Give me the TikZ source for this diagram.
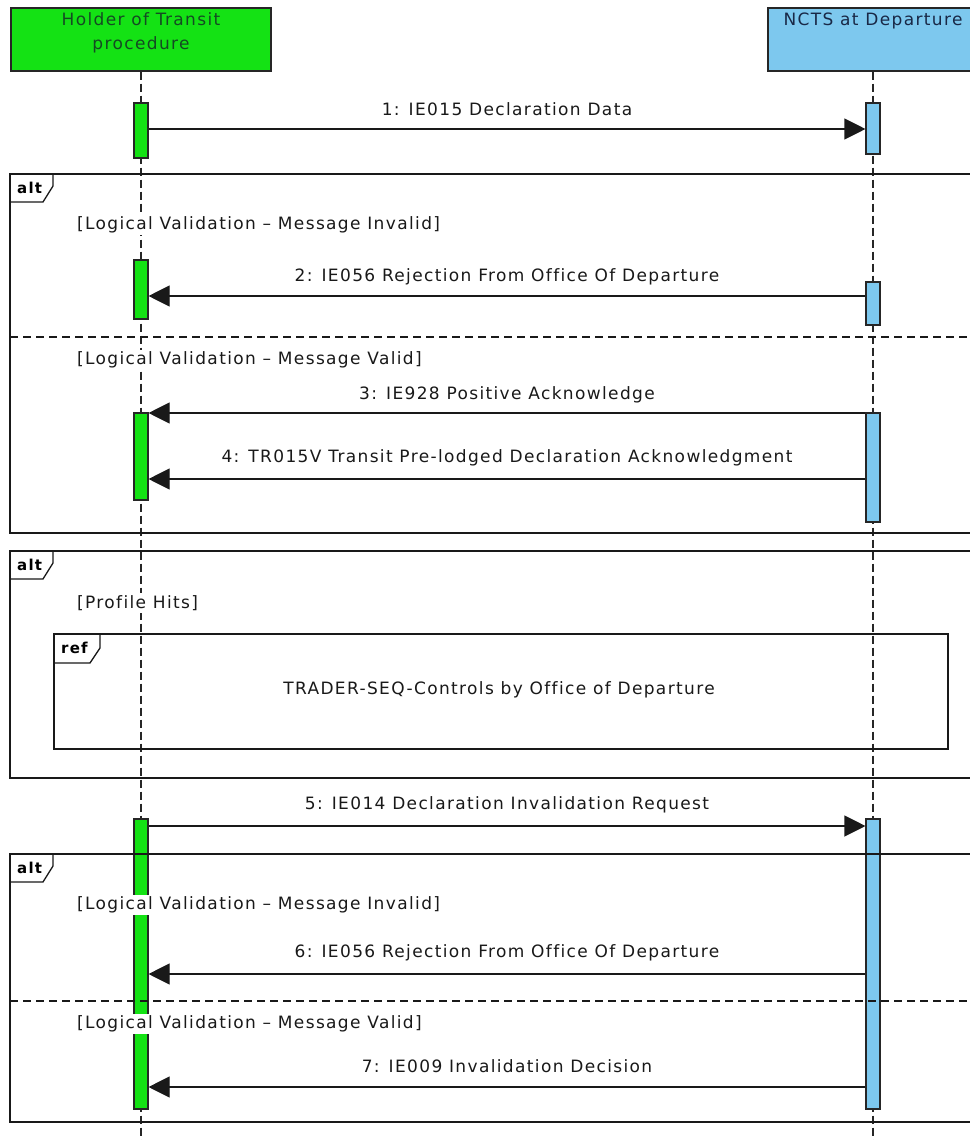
\documentclass[tikz,border=0pt]{standalone}
\usepackage{fontspec}
\newfontfamily\seqfont{DejaVu Sans}[LetterSpace=8, Ligatures=NoCommon]
\usetikzlibrary{arrows.meta,positioning}
\definecolor{holdergreen}{RGB}{20,226,20}
\definecolor{nctsblue}{RGB}{125,200,238}
\definecolor{holdertext}{RGB}{20,75,35}
\definecolor{nctstext}{RGB}{25,40,70}

\begin{document}
\begin{tikzpicture}[
  x=1pt, y=-1pt,
  headbox/.style={draw=black!85, line width=1.1pt, minimum height=63pt, inner sep=0pt},
  headtext/.style={font=\seqfont\fontsize{17}{24}\selectfont, align=center, anchor=north, inner sep=0pt},
  lifeline/.style={draw=black!85, line width=1.1pt, dash pattern=on 8pt off 4pt},
  hbar/.style={draw=black!85, fill=holdergreen, line width=1.1pt, minimum width=14pt, inner sep=0pt},
  nbar/.style={hbar, fill=nctsblue},
  msg/.style={-{Triangle[length=21pt,width=21pt]}, draw=black!90, line width=1.1pt},
  msglabel/.style={font=\seqfont\fontsize{17}{20}\selectfont, text=black!90},
  guard/.style={msglabel, fill=white, anchor=west, inner sep=2pt},
  frame/.style={draw=black!90, line width=1.3pt},
  divider/.style={draw=black!90, line width=1.1pt, dash pattern=on 8pt off 5pt},
  frametag/.style={font=\seqfont\bfseries\fontsize{15}{18}\selectfont, anchor=west, inner sep=0pt}
]
  \fill[white] (0,0) rectangle (969,1140);
  \useasboundingbox (0,0) rectangle (969,1140);

  % participants
  \node[headbox, fill=holdergreen, minimum width=260pt,
    label={[headtext, text=holdertext, yshift=-5pt]north:{Holder of Transit\\procedure}}] (holder) at (141,39.5) {};
  \node[headbox, fill=nctsblue, minimum width=210pt,
    label={[headtext, text=nctstext, yshift=-5pt]north:{NCTS at Departure}}] (ncts) at (873,39.5) {};

  \coordinate (holderend) at (141,1140);
  \coordinate (nctsend) at (873,1140);
  \draw[lifeline] (holder) -- (holderend);
  \draw[lifeline] (ncts) -- (nctsend);

  % activation bars
  \node[hbar, minimum height=55pt] (h1) at (141,130.5) {};
  \node[nbar, minimum height=51pt] (n1) at (873,128.5) {};
  \node[hbar, minimum height=59pt] (h2) at (141,289.5) {};
  \node[nbar, minimum height=43pt] (n2) at (873,303.5) {};
  \node[hbar, minimum height=87pt] (h3) at (141,456.5) {};
  \node[nbar, minimum height=109pt] (n3) at (873,467.5) {};
  \node[hbar, minimum height=290pt] (h5) at (141,964) {};
  \node[nbar, minimum height=290pt] (n5) at (873,964) {};

  % combined fragments
  \draw[frame] (10,174) rectangle (980,533);
  \draw[frame] (10,202) -- (43,202) -- (53,186) -- (53,174);
  \node[frametag] (alt1) at (17,188) {alt};
  \draw[divider] (10,337) -- (980,337);

  \draw[frame] (10,551) rectangle (980,778);
  \draw[frame] (10,579) -- (43,579) -- (53,563) -- (53,551);
  \node[frametag] (alt2) at (17,565) {alt};

  \draw[frame] (54,634) rectangle (948,749);
  \draw[frame] (54,663) -- (90,663) -- (100,648) -- (100,634);
  \node[frametag] (ref) at (61,648) {ref};
  \node[msglabel] (refname) at (499,690) {TRADER-SEQ-Controls by Office of Departure};

  \draw[frame] (10,854) rectangle (980,1122);
  \draw[frame] (10,882) -- (43,882) -- (53,866) -- (53,854);
  \node[frametag] (alt3) at (17,868) {alt};
  \draw[divider] (10,1001) -- (980,1001);

  % guards
  \node[guard] (g1) at (75,225) {[Logical Validation – Message Invalid]};
  \node[guard] (g2) at (75,360) {[Logical Validation – Message Valid]};
  \node[guard] (g3) at (75,603) {[Profile Hits]};
  \node[guard] (g4) at (75,905) {[Logical Validation – Message Invalid]};
  \node[guard] (g5) at (75,1024) {[Logical Validation – Message Valid]};

  % messages
  \coordinate (r1) at (0,129);
  \coordinate (r2) at (0,296);
  \coordinate (r3) at (0,413);
  \coordinate (r4) at (0,479);
  \coordinate (r5) at (0,826);
  \coordinate (r6) at (0,974);
  \coordinate (r7) at (0,1087);

  \draw[msg] (h1.east |- r1) -- node[msglabel, yshift=20pt] {1: IE015 Declaration Data} (n1.west |- r1);
  \draw[msg] (n2.west |- r2) -- node[msglabel, yshift=19pt] {2: IE056 Rejection From Office Of Departure} (h2.east |- r2);
  \draw[msg] (n3.west |- r3) -- node[msglabel, yshift=18pt] {3: IE928 Positive Acknowledge} (h3.east |- r3);
  \draw[msg] (n3.west |- r4) -- node[msglabel, yshift=21pt] {4: TR015V Transit Pre-lodged Declaration Acknowledgment} (h3.east |- r4);
  \draw[msg] (h5.east |- r5) -- node[msglabel, yshift=21pt] {5: IE014 Declaration Invalidation Request} (n5.west |- r5);
  \draw[msg] (n5.west |- r6) -- node[msglabel, yshift=21pt] {6: IE056 Rejection From Office Of Departure} (h5.east |- r6);
  \draw[msg] (n5.west |- r7) -- node[msglabel, yshift=21pt] {7: IE009 Invalidation Decision} (h5.east |- r7);
\end{tikzpicture}
\end{document}
